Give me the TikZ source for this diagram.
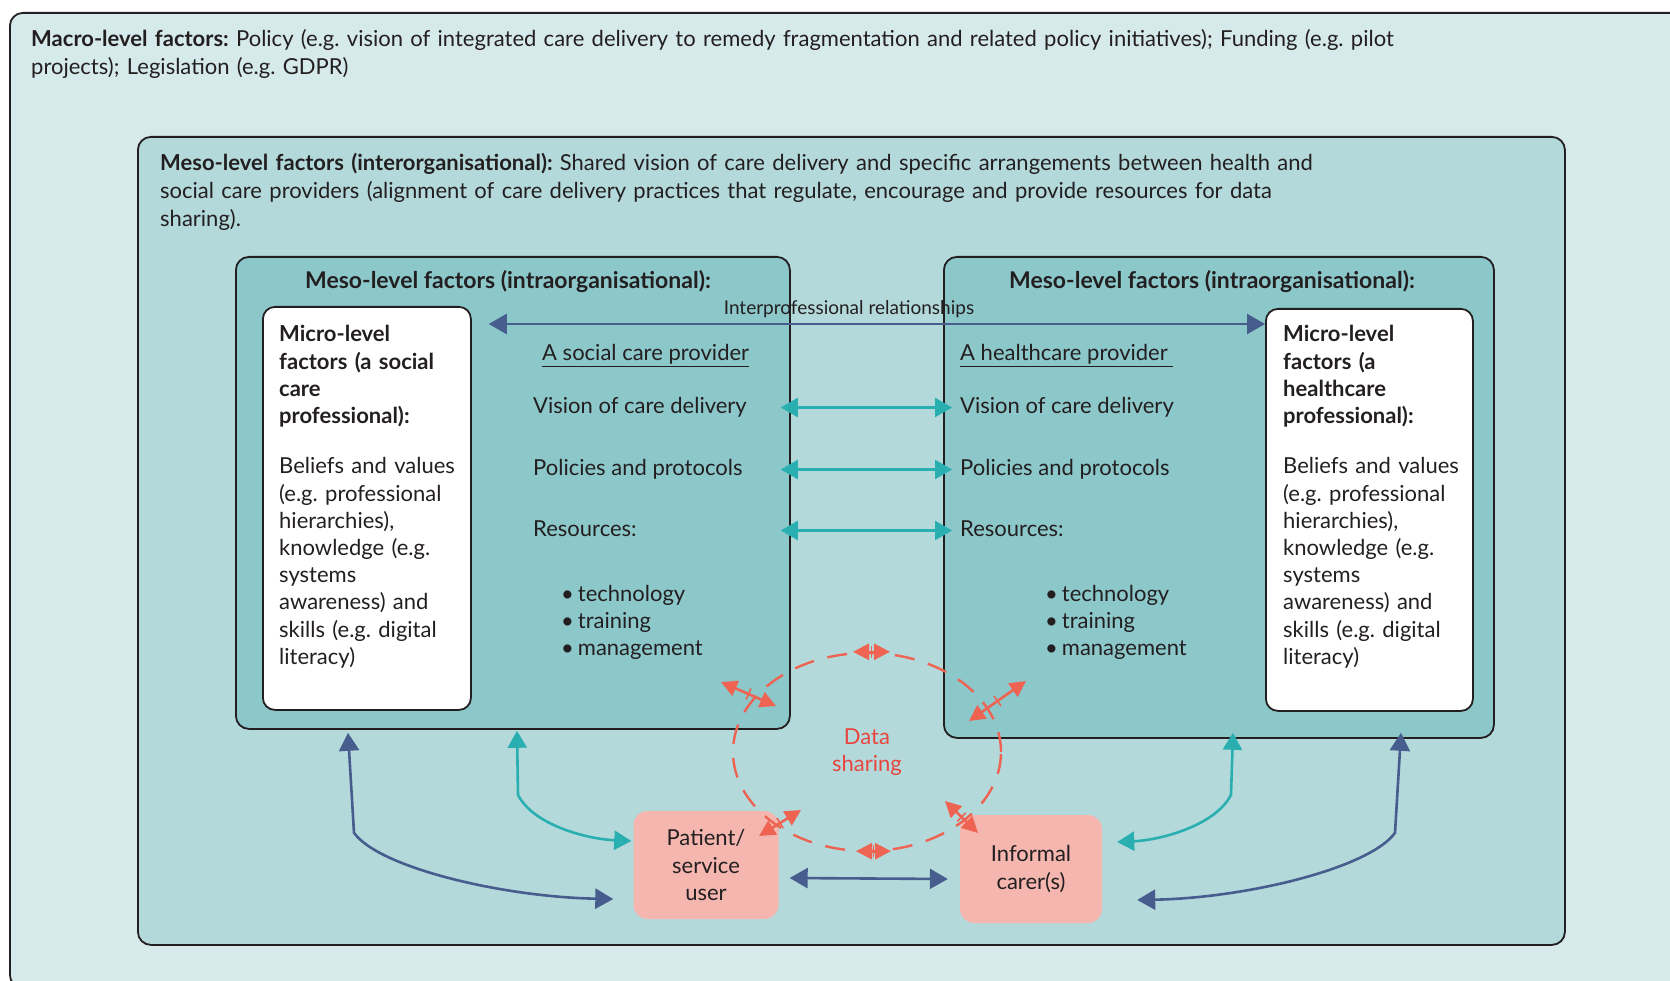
\documentclass[tikz,border=0pt]{standalone}
\usepackage{fontspec}
\setmainfont{Lato}
\frenchspacing
\usetikzlibrary{calc,shapes.geometric,arrows.meta,decorations.markings}

\definecolor{ink}{HTML}{231F20}
\definecolor{macrofill}{HTML}{D6E9EB}
\definecolor{interfill}{HTML}{B3D9DB}
\definecolor{intrafill}{HTML}{8CC7CA}
\definecolor{pinkfill}{HTML}{F4B6AF}
\definecolor{blueline}{HTML}{465D8E}
\definecolor{tealline}{HTML}{2AAFB0}
\definecolor{redline}{HTML}{EE6352}
\definecolor{datared}{HTML}{E8453F}

\newcommand\bodyfont{\fontsize{22}{27.7}\selectfont}
\newcommand\microfont{\fontsize{22}{27.2}\selectfont}
\newcommand\bul{•\hspace{0.18em}}

\tikzset{
  box/.style={draw=ink, line width=1.8pt, rounded corners=13pt, inner sep=0pt, anchor=north west},
  txt/.style={anchor=base west, inner sep=0pt, align=left, text=ink, font=\bodyfont},
  row/.style={anchor=base west, inner sep=0pt, text=ink, font=\bodyfont, text height=16pt, text depth=5pt},
  title/.style={anchor=base, inner sep=0pt, text=ink, font=\fontsize{23}{27.7}\selectfont\bfseries},
  pinkbox/.style={fill=pinkfill, rounded corners=14pt, inner sep=0pt, align=center, text=ink, font=\microfont},
  datacirc/.style={ellipse, draw=redline, line width=2.4pt, dash pattern=on 20pt off 14pt, inner sep=0pt,
    minimum width=268pt, minimum height=198pt, align=center, text=datared, font=\microfont},
  bluearr/.style={draw=blueline, line width=2.6pt, {Triangle[length=18pt,width=20pt]}-{Triangle[length=18pt,width=20pt]}},
  tealarr/.style={draw=tealline, line width=2.6pt, {Triangle[length=17pt,width=19pt]}-{Triangle[length=17pt,width=19pt]}},
  redarr/.style={draw=redline, line width=2.6pt, {Triangle[length=16pt,width=16pt]}-{Triangle[length=16pt,width=16pt]},
    postaction={decorate}, decoration={markings, mark=at position 0.5 with {\draw[-, redline, line width=1.6pt] (0,-6pt) -- (0,6pt);}}}
}

\begin{document}
\begin{tikzpicture}[x=1pt,y=-1pt]
  \useasboundingbox (0,0) rectangle (1670,981);
  \clip (0,0) rectangle (1670,981);

  % macro level
  \node[box, fill=macrofill, minimum width=1700pt, minimum height=975pt] (macro) at (9,12) {};
  \node[txt, text width=1500pt] (macrotxt) at (31,47) {\textbf{Macro-level factors:} Policy (e.g. vision of integrated care delivery to remedy fragmentation and related policy initiatives); Funding (e.g. pilot\\projects); Legislation (e.g. GDPR)};

  % meso level, between organisations
  \node[box, fill=interfill, minimum width=1427pt, minimum height=808pt] (inter) at (137,136) {};
  \node[txt, text width=1400pt] (intertxt) at (160,171) {\textbf{Meso-level factors (interorganisational):} Shared vision of care delivery and specific arrangements between health and\\social care providers (alignment of care delivery practices that regulate, encourage and provide resources for data\\sharing).};

  % meso level, within organisations
  \node[box, fill=intrafill, minimum width=554pt, minimum height=472pt] (socintra) at (235,256) {};
  \node[box, fill=intrafill, minimum width=550pt, minimum height=481pt] (hcintra) at (943,256) {};
  \node[title] (soctitle) at (508,289) {Meso-level factors (intraorganisational):};
  \node[title] (hctitle) at (1212,289) {Meso-level factors (intraorganisational):};

  % micro level
  \node[box, fill=white, rounded corners=12pt, minimum width=208pt, minimum height=403pt] (socmicro) at (262,306) {};
  \node[box, fill=white, rounded corners=12pt, minimum width=207pt, minimum height=402pt] (hcmicro) at (1265,308) {};
  \node[txt, text width=190pt, font=\microfont] (socmicrotxt) at (279,342) {{\bfseries Micro-level\\factors (a social\\care\\professional):}\\[23pt]Beliefs and values\\(e.g. professional\\hierarchies),\\knowledge (e.g.\\systems\\awareness) and\\skills (e.g. digital\\literacy)};
  \node[txt, text width=190pt, font=\microfont] (hcmicrotxt) at (1283,342) {{\bfseries Micro-level\\factors (a\\healthcare\\professional):}\\[23pt]Beliefs and values\\(e.g. professional\\hierarchies),\\knowledge (e.g.\\systems\\awareness) and\\skills (e.g. digital\\literacy)};

  % provider columns
  \node[row] (lhead) at (542,361) {\underline{A social care provider}};
  \node[row] (lvision) at (533,413) {Vision of care delivery};
  \node[row] (lpolicy) at (533,475) {Policies and protocols};
  \node[row] (lresource) at (533,536) {Resources:};
  \node[txt, text width=200pt, font=\microfont] (llist) at (561,601) {\bul technology\\\bul training\\\bul management};
  \node[row] (rhead) at (960,361) {\underline{A healthcare provider\ }};
  \node[row] (rvision) at (960,413) {Vision of care delivery};
  \node[row] (rpolicy) at (960,475) {Policies and protocols};
  \node[row] (rresource) at (960,536) {Resources:};
  \node[txt, text width=200pt, font=\microfont] (rlist) at (1045,601) {\bul technology\\\bul training\\\bul management};

  \foreach \r in {vision,policy,resource}
    \draw[tealarr] ($(socintra.east |- l\r.east)+(-10,0)$) -- ($(hcintra.west |- r\r.east)+(9,0)$);

  % interprofessional link
  \draw[bluearr] ($(socmicro.north east)+(17,18)$) -- ($(hcmicro.north west)+(0,16)$);
  \node[anchor=base, inner sep=0pt, text=ink, font=\fontsize{19}{22}\selectfont] (interlbl) at (849,315) {Interprofessional relationships};

  % patient and carer
  \node[pinkbox, minimum width=145pt, minimum height=108pt] (patient) at (706,865) {Patient/\\service\\user};
  \node[pinkbox, minimum width=142pt, minimum height=108pt] (carer) at (1031,869) {Informal\\carer(s)};
  \draw[bluearr] ($(patient.east)+(11,13)$) -- ($(carer.west)+(-12,10)$);

  \draw[bluearr] ($(socintra.south west)+(113,3)$) -- ++(6,100) .. controls +(25,35) and +(-110,-2) .. ($(patient.west)+(-20,34)$);
  \draw[tealarr] ($(socintra.south west)+(282,1)$) -- ++(1,64) .. controls +(15,30) and +(-45,-2) .. ($(patient.west)+(-2,-24)$);
  \draw[tealarr] ($(hcintra.south west)+(290,-6)$) -- ++(-2,62) .. controls +(-15,30) and +(45,-2) .. ($(carer.east)+(15,-27)$);
  \draw[bluearr] ($(hcintra.south west)+(458,-6)$) -- ++(-6,100) .. controls +(-25,35) and +(110,-2) .. ($(carer.east)+(35,31)$);

  % data sharing
  \node[datacirc] (datashare) at (867,752) {Data\\sharing};
  \draw[redarr] ($(datashare.north)+(-14,0)$) -- ($(datashare.north)+(23,0)$);
  \draw[redarr] ($(datashare.south)+(-11,-1)$) -- ($(datashare.south)+(24,-1)$);
  \draw[redarr] ($(datashare.center)+(-146,-70)$) -- ($(datashare.center)+(-91,-46)$);
  \draw[redarr] ($(datashare.center)+(102,-31)$) -- ($(datashare.center)+(159,-71)$);
  \draw[redarr] ($(datashare.center)+(-108,84)$) -- ($(datashare.center)+(-66,58)$);
  \draw[redarr] ($(datashare.center)+(78,49)$) -- ($(datashare.center)+(111,81)$);
\end{tikzpicture}
\end{document}
